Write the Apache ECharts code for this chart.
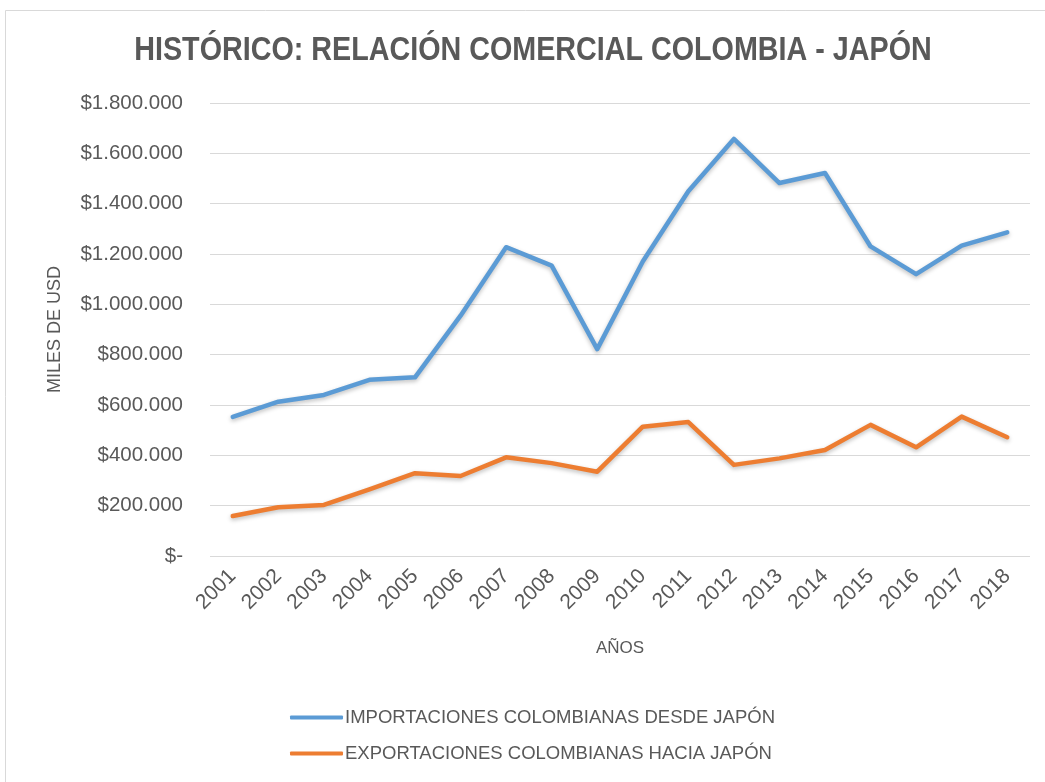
<!DOCTYPE html>
<html>
<head>
<meta charset="utf-8">
<script src="https://cdn.jsdelivr.net/npm/echarts@6/dist/echarts.min.js"></script>
<style>
html,body{margin:0;padding:0;background:#fff;}
#c{width:1045px;height:782px;}
</style>
</head>
<body>
<div id="c"></div>
<script>
const years = ['2001','2002','2003','2004','2005','2006','2007','2008','2009','2010','2011','2012','2013','2014','2015','2016','2017','2018'];
const importaciones = [553000,613000,640000,700000,710000,955000,1227000,1154000,822000,1170000,1449000,1657000,1482000,1522000,1230000,1120000,1233000,1286000];
const exportaciones = [159000,194000,203000,265000,329000,318000,392000,369000,335000,514000,532000,362000,388000,421000,521000,432000,554000,472000];
const yTicks = {min:0, max:1800000, interval:200000};
const titleText = 'HISTÓRICO: RELACIÓN COMERCIAL COLOMBIA - JAPÓN';

function fmt(v){
  if(v===0) return '$-';
  return '$' + String(v).replace(/\B(?=(\d{3})+(?!\d))/g, '.');
}

const chart = echarts.init(document.getElementById('c'), null, {renderer:'canvas'});
const txt = '#595959';
const font = '"Liberation Sans",Arial,sans-serif';
chart.setOption({
  backgroundColor:'#fff',
  animation:false,
  graphic:[{
    type:'rect', shape:{x:5.5,y:10.5,width:1060,height:800},
    style:{fill:'none',stroke:'#d9d9d9',lineWidth:1}, silent:true
  },{
    type:'text', x:533, y:51, scaleX:0.87, scaleY:1, silent:true,
    style:{text:titleText, fontFamily:font, fontWeight:'bold', fontSize:33,
           fill:txt, textAlign:'center', textVerticalAlign:'middle'}
  }],
  legend:{
    orient:'vertical', left:285, top:703,
    itemWidth:53, itemHeight:4, itemGap:17,
    icon:'roundRect',
    textStyle:{fontFamily:font,fontSize:18.5,color:txt,padding:[0,0,0,-3]},
    data:['IMPORTACIONES COLOMBIANAS DESDE JAPÓN','EXPORTACIONES COLOMBIANAS HACIA JAPÓN']
  },
  grid:{left:210,right:15,top:103,bottom:226},
  xAxis:{
    type:'category', data:years, boundaryGap:true,
    name:'AÑOS', nameLocation:'middle', nameGap:84,
    nameTextStyle:{fontFamily:font,fontSize:17,color:txt},
    axisLine:{show:false}, axisTick:{show:false},
    axisLabel:{rotate:45,fontFamily:font,fontSize:21,color:txt,margin:17,interval:0}
  },
  yAxis:{
    type:'value', min:yTicks.min, max:yTicks.max, interval:yTicks.interval,
    name:'MILES DE USD', nameLocation:'middle', nameGap:146,
    nameTextStyle:{fontFamily:font,fontSize:18,color:txt},
    axisLine:{show:false}, axisTick:{show:false},
    splitLine:{lineStyle:{color:'#d9d9d9',width:1}},
    axisLabel:{formatter:fmt,fontFamily:font,fontSize:20.5,color:txt,margin:27}
  },
  series:[
    {name:'IMPORTACIONES COLOMBIANAS DESDE JAPÓN',type:'line',data:importaciones,
     showSymbol:false,symbol:'none',
     lineStyle:{color:'#5B9BD5',width:4.5,shadowColor:'rgba(0,0,0,0.25)',shadowBlur:4,shadowOffsetY:2,join:'round',cap:'round'},
     itemStyle:{color:'#5B9BD5'}},
    {name:'EXPORTACIONES COLOMBIANAS HACIA JAPÓN',type:'line',data:exportaciones,
     showSymbol:false,symbol:'none',
     lineStyle:{color:'#ED7D31',width:4.5,shadowColor:'rgba(0,0,0,0.25)',shadowBlur:4,shadowOffsetY:2,join:'round',cap:'round'},
     itemStyle:{color:'#ED7D31'}}
  ]
});
</script>
</body>
</html>
